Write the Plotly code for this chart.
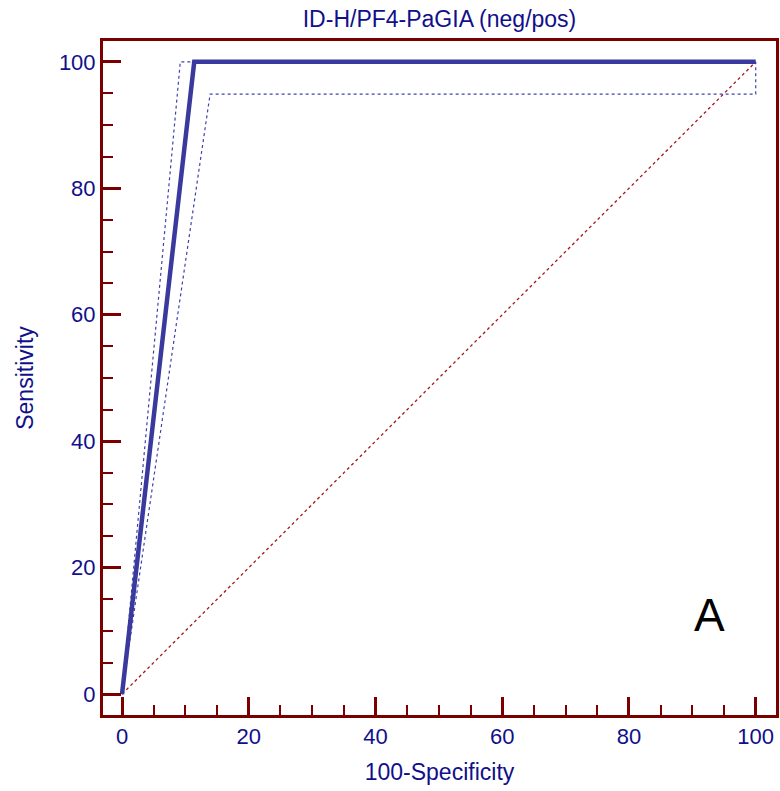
import plotly.graph_objects as go

# ROC curve data
roc_x = [0, 11.4, 100]
roc_y = [0, 100, 100]
upper_ci_x = [0, 9.2, 100]
upper_ci_y = [0, 100, 100]
lower_ci_x = [0, 13.9, 100, 100]
lower_ci_y = [0, 94.9, 94.9, 100]
diag_x = [0, 100]
diag_y = [0, 100]
tick_vals = [0, 20, 40, 60, 80, 100]

maroon = "#7a0000"
navy = "#10108a"
line_blue = "#3a3a9e"

fig = go.Figure()
fig.add_trace(go.Scatter(x=diag_x, y=diag_y, mode="lines",
                         line=dict(color="#a01818", width=1.3, dash="dot"), showlegend=False))
fig.add_trace(go.Scatter(x=upper_ci_x, y=upper_ci_y, mode="lines",
                         line=dict(color="#4040b0", width=1.2, dash="dot"), showlegend=False))
fig.add_trace(go.Scatter(x=lower_ci_x, y=lower_ci_y, mode="lines",
                         line=dict(color="#4040b0", width=1.2, dash="dot"), showlegend=False))
fig.add_trace(go.Scatter(x=roc_x, y=roc_y, mode="lines",
                         line=dict(color=line_blue, width=4.5), showlegend=False))

fig.add_annotation(x=92.7, y=12.5, text="A", showarrow=False,
                   font=dict(size=46, color="black", family="Liberation Sans"))

axis_common = dict(
    showgrid=False, zeroline=False, showline=True, linecolor=maroon, linewidth=3,
    mirror=True, ticks="inside", ticklen=18, tickwidth=3, tickcolor=maroon,
    tickvals=tick_vals, tickfont=dict(size=22, color=navy, family="Liberation Sans"),
    minor=dict(dtick=5, ticks="inside", ticklen=10, tickwidth=2, tickcolor=maroon, showgrid=False),
    automargin=False,
)

fig.update_layout(
    width=780, height=791,
    margin=dict(l=103, r=4, t=41, b=76),
    plot_bgcolor="white", paper_bgcolor="white",
    title=dict(text="ID-H/PF4-PaGIA (neg/pos)", x=439.5 / 780, xanchor="center",
               y=1 - 18.5 / 791, yanchor="middle", yref="container",
               font=dict(size=23, color=navy, family="Liberation Sans")),
    xaxis=dict(range=[-3.0, 103.2], title=dict(text="100-Specificity", standoff=16,
               font=dict(size=23, color=navy, family="Liberation Sans")), **axis_common),
    yaxis=dict(range=[-3.3, 103.3], title=dict(text="Sensitivity", standoff=19,
               font=dict(size=23, color=navy, family="Liberation Sans")), **axis_common),
)

fig.write_html("out.html", config={"displayModeBar": False},
               post_script="document.body.style.margin='0';document.body.style.overflow='hidden';")
